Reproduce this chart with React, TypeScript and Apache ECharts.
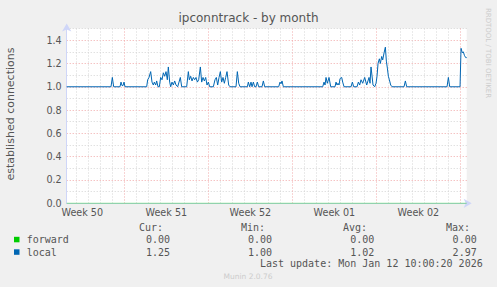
import { useEffect, useRef } from "react";
import * as echarts from "echarts";

// x values are days relative to Monday 15 Dec 2025 00:00 (start of Week 51)
const X_MIN = -4.8;
const X_MAX = 28.53;

const titleText = "ipconntrack - by month";
const yAxisTitle = "established connections";
const weekLabels = ["Week 50", "Week 51", "Week 52", "Week 01", "Week 02"];
const weekLabelDays = [-3.5, 3.5, 10.5, 17.5, 24.5];
const weekStartDays = [0, 7, 14, 21, 28];

const localDays = [
  -4.8, -1.108, -0.998, -0.886, -0.358, -0.275, -0.192, -0.108, -0.025, 0.058,
  1.864, 1.947, 2.058, 2.197, 2.308, 2.419, 2.503, 2.614, 2.697, 2.808,
  2.919, 3.031, 3.142, 3.253, 3.364, 3.475, 3.586, 3.669, 3.781, 3.864,
  3.975, 4.086, 4.197, 4.308, 4.447, 4.558, 4.669, 4.781, 5.197, 5.336,
  5.419, 5.531, 5.642, 5.753, 5.864, 5.975, 6.086, 6.197, 6.336, 6.447,
  6.558, 6.669, 6.781, 6.892, 7.003, 7.114, 7.419, 7.558, 7.669, 7.781,
  7.892, 8.003, 8.114, 8.225, 8.336, 8.447, 8.558, 8.697, 8.808, 9.308,
  9.419, 9.531, 9.642, 10.253, 10.336, 10.447, 10.558, 10.642, 10.753, 10.864,
  10.975, 11.086, 11.197, 11.475, 11.586, 11.697, 12.864, 12.975, 13.058, 13.142,
  13.253, 16.531, 16.642, 16.725, 16.808, 16.919, 17.058, 17.197, 17.558, 17.642,
  17.725, 17.808, 17.892, 17.975, 18.114, 18.197, 18.308, 18.892, 19.003, 19.114,
  19.392, 19.503, 19.614, 19.725, 19.864, 20.031, 20.197, 20.392, 20.475, 20.558,
  20.725, 20.864, 20.975, 21.058, 21.142, 21.253, 21.336, 21.447, 21.531, 21.642,
  21.753, 21.836, 21.919, 22.003, 22.086, 22.197, 22.308, 23.308, 23.419, 23.531,
  26.892, 27.003, 27.114, 27.975, 28.058, 28.169, 28.253, 28.336, 28.447, 28.53,
];
const localValues = [
  1.0, 1.0, 1.08, 1.0, 1.0, 1.04, 1.01, 1.01, 1.04, 1.0,
  1.0, 1.06, 1.08, 1.13, 1.04, 1.015, 1.04, 1.015, 1.05, 1.0,
  1.0, 1.08, 1.06, 1.12, 1.09, 1.13, 1.06, 1.17, 1.04, 1.0,
  1.04, 1.015, 1.05, 1.015, 1.0, 1.04, 1.08, 1.0, 1.0, 1.13,
  1.06, 1.09, 1.05, 1.08, 1.06, 1.08, 1.04, 1.06, 1.17, 1.04,
  1.08, 1.05, 1.08, 1.015, 1.04, 1.0, 1.0, 1.06, 1.08, 1.015,
  1.08, 1.13, 1.04, 1.08, 1.03, 1.08, 1.13, 1.015, 1.0, 1.0,
  1.13, 1.03, 1.0, 1.0, 1.04, 1.0, 1.04, 1.0, 1.04, 1.0,
  1.0, 1.04, 1.0, 1.0, 1.05, 1.0, 1.0, 1.04, 1.025, 1.05,
  1.0, 1.0, 1.04, 1.015, 1.08, 1.03, 1.08, 1.0, 1.0, 1.04,
  1.015, 1.03, 1.015, 1.07, 1.08, 1.04, 1.0, 1.0, 1.04, 1.0,
  1.0, 1.04, 1.015, 1.06, 1.03, 1.08, 1.015, 1.08, 1.03, 1.17,
  1.015, 1.0, 1.03, 1.09, 1.2, 1.24, 1.2, 1.26, 1.23, 1.29,
  1.34, 1.22, 1.16, 1.09, 1.06, 1.015, 1.0, 1.0, 1.05, 1.0,
  1.0, 1.08, 1.0, 1.0, 1.33, 1.29, 1.3, 1.27, 1.25, 1.25,
];
const forwardDays = [X_MIN, X_MAX];
const forwardValues = [0, 0];

const legendNames = ["forward", "local"];
const legendColors = ["#00cc00", "#0066b3"];
const legendHeaders = ["Cur:", "Min:", "Avg:", "Max:"];
const legendStats = [
  ["0.00", "0.00", "0.00", "0.00"],
  ["1.25", "1.00", "1.02", "2.97"],
];
const lastUpdate = "Last update: Mon Jan 12 10:00:20 2026";
const footer = "Munin 2.0.76";
const watermark = "RRDTOOL / TOBI OETIKER";

const TEXT = "#555555";
const MAJOR = "#f0a8a8";
const MINOR = "#d4d4d4";
const MONO = "'DejaVu Sans Mono', monospace";
const SANS = "'DejaVu Sans', sans-serif";

export default function App() {
  const ref = useRef<HTMLDivElement>(null);
  useEffect(() => {
    if (!ref.current) return;
    const chart = echarts.init(ref.current, undefined, { renderer: "svg" });

    const dayTicks: number[] = [];
    const xColors: string[] = [];
    for (let d = Math.ceil(X_MIN); d <= Math.floor(X_MAX); d++) {
      dayTicks.push(d);
      xColors.push(weekStartDays.includes(d) ? MAJOR : MINOR);
    }

    const colX = [170, 272, 374.3, 476.7];
    const headX = [163, 265, 367, 470];
    const rowY = [239.5, 252];
    const graphics: any[] = [
      {
        type: "text",
        x: 248.5,
        y: 18,
        style: { text: titleText, fill: TEXT, font: `12px ${SANS}`, textAlign: "center", textVerticalAlign: "middle" },
      },
      {
        type: "text",
        x: 10,
        y: 114,
        rotation: Math.PI / 2,
        style: { text: yAxisTitle, fill: TEXT, font: `11px ${SANS}`, textAlign: "center", textVerticalAlign: "middle" },
      },
      {
        type: "text",
        x: 488,
        y: 53,
        rotation: -Math.PI / 2,
        style: { text: watermark, fill: "#cccccc", font: `7px ${SANS}`, textAlign: "center", textVerticalAlign: "middle" },
      },
      {
        type: "text",
        x: 248,
        y: 276.5,
        style: { text: footer, fill: "#cccccc", font: `7.5px ${SANS}`, textAlign: "center", textVerticalAlign: "middle" },
      },
      {
        type: "text",
        x: 482.7,
        y: 263.5,
        style: { text: lastUpdate, fill: TEXT, font: `10px ${MONO}`, textAlign: "right", textVerticalAlign: "middle" },
      },
    ];
    legendHeaders.forEach((h, i) => {
      graphics.push({
        type: "text",
        x: headX[i],
        y: 227.5,
        style: { text: h, fill: TEXT, font: `10px ${MONO}`, textAlign: "right", textVerticalAlign: "middle" },
      });
    });
    legendNames.forEach((n, r) => {
      graphics.push({
        type: "rect",
        shape: { x: 14, y: rowY[r] - 2.7, width: 5.5, height: 5.5 },
        style: { fill: legendColors[r] },
      });
      graphics.push({
        type: "text",
        x: 26.7,
        y: rowY[r],
        style: { text: n, fill: TEXT, font: `10px ${MONO}`, textAlign: "left", textVerticalAlign: "middle" },
      });
      legendStats[r].forEach((s, i) => {
        graphics.push({
          type: "text",
          x: colX[i],
          y: rowY[r],
          style: { text: s, fill: TEXT, font: `10px ${MONO}`, textAlign: "right", textVerticalAlign: "middle" },
        });
      });
    });

    const yColors: string[] = [];
    for (let i = 0; i <= 15; i++) yColors.push(i % 2 === 0 ? MAJOR : MINOR);

    chart.setOption({
      animation: false,
      backgroundColor: "#f0f0f0",
      grid: {
        left: 66.7,
        right: 30.3,
        top: 28.5,
        bottom: 83.7,
        show: true,
        backgroundColor: "#ffffff",
        borderWidth: 0,
      },
      xAxis: {
        type: "value",
        min: X_MIN,
        max: X_MAX,
        axisLine: {
          show: true,
          onZero: false,
          lineStyle: { color: "#cfd6f8", width: 1 },
          symbol: ["none", "arrow"],
          symbolSize: [7, 8],
          symbolOffset: [0, 5],
        },
        axisTick: {
          show: true,
          customValues: dayTicks,
          length: 2,
          lineStyle: { color: xColors, width: 1 },
        },
        splitLine: {
          show: true,
          lineStyle: { color: xColors, type: [1, 2], width: 1 },
        },
        axisLabel: {
          customValues: weekLabelDays,
          formatter: (v: number) => {
            let best = 0;
            weekLabelDays.forEach((d, i) => {
              if (Math.abs(d - v) < Math.abs(weekLabelDays[best] - v)) best = i;
            });
            return weekLabels[best];
          },
          color: TEXT,
          fontFamily: SANS,
          fontSize: 9.6,
          margin: 4,
          showMinLabel: true,
          showMaxLabel: true,
        },
      },
      yAxis: {
        type: "value",
        min: 0,
        max: 1.5,
        interval: 0.1,
        axisLine: {
          show: true,
          onZero: false,
          lineStyle: { color: "#cfd6f8", width: 1 },
          symbol: ["none", "arrow"],
          symbolSize: [7, 8],
          symbolOffset: [0, 5],
        },
        axisTick: { show: true, length: 2, lineStyle: { color: yColors, width: 1 } },
        splitLine: {
          show: true,
          lineStyle: { color: yColors, type: [1, 2], width: 1 },
        },
        axisLabel: {
          formatter: (v: number) => (Math.round(v * 10) % 2 === 0 && v < 1.45 ? v.toFixed(1) : ""),
          color: TEXT,
          fontFamily: SANS,
          fontSize: 9.6,
          margin: 5,
        },
      },
      series: [
        {
          name: "forward",
          type: "line",
          z: 2,
          symbol: "none",
          data: forwardDays.map((d, i) => [d, forwardValues[i]]),
          lineStyle: { color: "#00cc00", width: 1, opacity: 0.5 },
        },
        {
          name: "local",
          type: "line",
          z: 3,
          symbol: "none",
          data: localDays.map((d, i) => [d, localValues[i]]),
          lineStyle: { color: "#0066b3", width: 1 },
        },
      ],
      graphic: graphics,
    });
    return () => chart.dispose();
  }, []);
  return <div ref={ref} style={{ position: "fixed", left: 0, top: 0, width: 497, height: 287 }} />;
}
